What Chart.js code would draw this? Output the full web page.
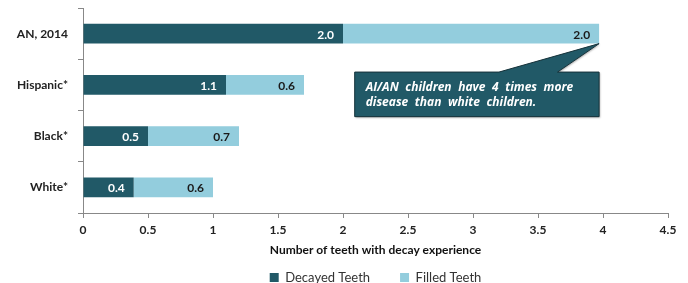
<!DOCTYPE html>
<html><head><meta charset="utf-8">
<script src="https://cdn.jsdelivr.net/npm/chart.js@4"></script>
<style>html,body{margin:0;padding:0;background:#fff}#w{width:688px;height:283px}</style>
</head><body><div id="w"><canvas id="c"></canvas></div>
<script>
const categories = ["AN, 2014", "Hispanic*", "Black*", "White*"];
const decayed = [2.0, 1.1, 0.5, 0.39];
const filled = [1.97, 0.6, 0.7, 0.61];
const xTicks = [0, 0.5, 1, 1.5, 2, 2.5, 3, 3.5, 4, 4.5];
const seriesNames = ["Decayed Teeth", "Filled Teeth"];
const calloutLines = ["AI/AN children have 4 times more", "disease than white children."];

const DARK = "#215967", LIGHT = "#93CDDD";
const FONT = "Lato, 'Open Sans', sans-serif";

const labelPlugin = {
  id: "barLabels",
  afterDatasetsDraw(chart) {
    const ctx = chart.ctx;
    ctx.save();
    ctx.font = "bold 12px " + FONT;
    ctx.textAlign = "right";
    ctx.textBaseline = "middle";
    chart.data.datasets.forEach((ds, di) => {
      const meta = chart.getDatasetMeta(di);
      meta.data.forEach((bar, i) => {
        ctx.fillStyle = di === 0 ? "#ffffff" : "#1a1a1a";
        ctx.fillText(ds.data[i].toFixed(1), bar.x - 9, bar.y + 1);
      });
    });
    ctx.restore();
  }
};

const legendFitPlugin = {
  id: "legendFit",
  afterInit(chart) {
    const lg = chart.legend;
    if (!lg) return;
    const orig = lg.fit;
    lg.fit = function () { orig.call(this); this.height = 42; };
  }
};

const calloutPlugin = {
  id: "callout",
  afterDraw(chart) {
    const ctx = chart.ctx;
    const xs = chart.scales.x, ys = chart.scales.y;
    const tipX = xs.getPixelForValue(decayed[0] + filled[0]);
    const barMeta = chart.getDatasetMeta(1).data[0];
    const tipY = barMeta.y + barMeta.height / 2;
    const left = xs.getPixelForValue(2.09), right = tipX;
    const top = ys.getPixelForValue(0.75), bottom = ys.getPixelForValue(1.62);
    const b1 = xs.getPixelForValue(3.2), b2 = xs.getPixelForValue(3.65);
    ctx.save();
    ctx.beginPath();
    ctx.moveTo(left, top);
    ctx.lineTo(b1, top);
    ctx.lineTo(tipX, tipY);
    ctx.lineTo(b2, top);
    ctx.lineTo(right, top);
    ctx.lineTo(right, bottom);
    ctx.lineTo(left, bottom);
    ctx.closePath();
    ctx.fillStyle = DARK;
    ctx.shadowColor = "rgba(0,0,0,0.35)";
    ctx.shadowBlur = 2; ctx.shadowOffsetX = 1; ctx.shadowOffsetY = 1;
    ctx.fill();
    ctx.shadowColor = "transparent";
    ctx.strokeStyle = "#16323a";
    ctx.lineWidth = 1;
    ctx.stroke();
    ctx.fillStyle = "#ffffff";
    ctx.font = "italic bold 12px 'Open Sans', sans-serif";
    try { ctx.wordSpacing = "3.5px"; } catch (e) {}
    ctx.textAlign = "left";
    ctx.textBaseline = "middle";
    const mid = (top + bottom) / 2;
    ctx.fillText(calloutLines[0], left + 11, mid - 7);
    ctx.fillText(calloutLines[1], left + 11, mid + 8);
    ctx.restore();
  }
};

new Chart(document.getElementById("c"), {
  type: "bar",
  data: {
    labels: categories,
    datasets: [
      { label: seriesNames[0], data: decayed, backgroundColor: DARK, barPercentage: 0.39, categoryPercentage: 1.0 },
      { label: seriesNames[1], data: filled, backgroundColor: LIGHT, barPercentage: 0.39, categoryPercentage: 1.0 }
    ]
  },
  options: {
    indexAxis: "y",
    responsive: true,
    maintainAspectRatio: false,
    animation: false,
    layout: { padding: { top: 8, right: 20, left: 0, bottom: 0 } },
    plugins: {
      legend: {
        position: "bottom",
        fullSize: false,
        labels: { boxWidth: 9, boxHeight: 9, padding: 30, color: "#333", font: { family: FONT, size: 13 } }
      },
      tooltip: { enabled: false }
    },
    scales: {
      x: {
        stacked: true, min: 0, max: 4.5,
        afterBuildTicks(s) { s.ticks = xTicks.map(v => ({ value: v })); },
        afterFit(s) { s.height = 28; },
        grid: { display: true, drawOnChartArea: false, drawTicks: true, tickLength: 5, color: "#888" },
        border: { display: true, color: "#888" },
        ticks: { color: "#222", font: { family: FONT, size: 12, weight: "bold" }, padding: 5, maxRotation: 0, callback: v => String(v) },
        title: { display: true, text: "Number of teeth with decay experience", color: "#111", font: { family: FONT, size: 12, weight: "bold" }, padding: { top: 0, bottom: -16 } }
      },
      y: {
        stacked: true,
        afterFit(s) { s.width = 83; s.paddingTop = 0; s.paddingBottom = 0; },
        grid: { display: true, drawOnChartArea: false, drawTicks: true, tickLength: 5, offset: true, color: "#888" },
        border: { display: true, color: "#888" },
        ticks: { color: "#222", font: { family: FONT, size: 12, weight: "bold" }, padding: 10 }
      }
    }
  },
  plugins: [labelPlugin, legendFitPlugin, calloutPlugin]
});
</script></body></html>
